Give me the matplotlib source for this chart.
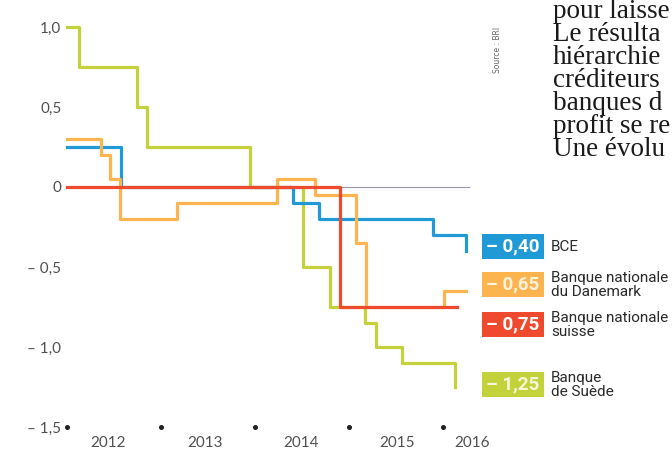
import matplotlib.pyplot as plt
from matplotlib.patches import Rectangle

# taux de dépôt (%), dates en années décimales
bce_dates = [2012.0, 2012.574, 2014.404, 2014.681, 2015.894, 2016.245]
bce_rates = [0.25, 0.0, -0.10, -0.20, -0.30, -0.40]

dk_dates = [2012.0, 2012.362, 2012.457, 2012.564, 2013.170, 2014.234,
            2014.638, 2015.074, 2015.181, 2016.011, 2016.245]
dk_rates = [0.30, 0.20, 0.05, -0.20, -0.10, 0.05, -0.05, -0.35, -0.75, -0.65, -0.65]

ch_dates = [2012.0, 2014.904, 2016.149]
ch_rates = [0.0, -0.75, -0.75]

se_dates = [2012.0, 2012.128, 2012.745, 2012.851, 2013.947, 2014.511,
            2014.798, 2015.170, 2015.287, 2015.564, 2016.128]
se_rates = [1.0, 0.75, 0.50, 0.25, 0.0, -0.50, -0.75, -0.85, -1.0, -1.10, -1.25]

zero_line = [2014.904, 2016.277]

years = [2012, 2013, 2014, 2015, 2016]
year_pos = [2012.44, 2013.47, 2014.49, 2015.51, 2016.31]
year_labels = ['2012', '2013', '2014', '2015', '2016']
y_ticks = [1.0, 0.5, 0.0, -0.5, -1.0, -1.5]
y_labels = ['1,0', '0,5', '0', '– 0,5', '– 1,0', '– 1,5']

legend_values = ['– 0,40', '– 0,65', '– 0,75', '– 1,25']
legend_names = ['BCE', 'Banque nationale\ndu Danemark',
                'Banque nationale\nsuisse', 'Banque\nde Suède']

text_lines = ['pour laisse', 'Le résulta', 'hiérarchie', 'créditeurs',
              'banques d', 'profit se re', 'Une évolu']

c_blue = '#1f9ad6'
c_orange = '#fbb44e'
c_red = '#f04a2e'
c_green = '#c3d23a'

W, H = 672, 454
fig = plt.figure(figsize=(W / 100, H / 100), dpi=100)
fig.patch.set_facecolor('white')


def px(x, y):
    return x / W, 1 - y / H


# axes : x=2012 -> 67 px, 94 px par an ; y=0 -> 187 px, 160 px par point
x0, x1 = 2012.0, 2016.6
y0, y1 = -1.65, 1.1
left = 67
right = 67 + (x1 - x0) * 94
top = 187 - y1 * 160
bottom = 187 - y0 * 160
ax = fig.add_axes([left / W, 1 - bottom / H, (right - left) / W, (bottom - top) / H])
ax.set_xlim(x0, x1)
ax.set_ylim(y0, y1)
for s in ax.spines.values():
    s.set_visible(False)
ax.set_xticks([])
ax.set_yticks(y_ticks)
ax.set_yticklabels(y_labels, fontsize=11, color='#505050', family='Lato')
ax.tick_params(axis='y', length=0, pad=4)
ax.patch.set_alpha(0)

lw = 2.3
ax.plot(zero_line, [0, 0], color='#9b93a8', lw=0.8, zorder=1)
ax.step(se_dates, se_rates, where='post', color=c_green, lw=lw, zorder=2, clip_on=False)
ax.step(bce_dates, bce_rates, where='post', color=c_blue, lw=lw, zorder=3, clip_on=False)
ax.step(dk_dates, dk_rates, where='post', color=c_orange, lw=lw, zorder=4, clip_on=False)
ax.step(ch_dates, ch_rates, where='post', color=c_red, lw=lw, zorder=5, clip_on=False)

ax.plot(years, [-1.5] * len(years), 'o', color='#222222', ms=2.6, clip_on=False)
for xp, lab in zip(year_pos, year_labels):
    ax.text(xp, -1.6, lab, ha='center', va='center', fontsize=11,
            color='#505050', family='Lato', clip_on=False)

# légende à droite
box_tops = [234, 272, 312, 372]
box_colors = [c_blue, c_orange, c_red, c_green]
box_text_colors = ['white', '#fff3dc', 'white', '#f4f8d8']
for yt, col, tcol, val, name in zip(box_tops, box_colors, box_text_colors,
                                    legend_values, legend_names):
    bx, by = px(482, yt + 25)
    fig.add_artist(Rectangle((bx, by), 62 / W, 25 / H, transform=fig.transFigure,
                             facecolor=col, edgecolor='none'))
    fig.text(*px(513, yt + 12.5), val, ha='center', va='center', fontsize=13.5,
             fontweight='bold', color=tcol,
             family=['Liberation Sans Narrow', 'Roboto'])
    fig.text(*px(551, yt + 13), name, ha='left', va='center', fontsize=11,
             color='#2a2a2a', linespacing=0.92,
             family=['Liberation Sans Narrow', 'Roboto'])

fig.text(*px(497, 50), 'Source : BRI', rotation=90, ha='center', va='center',
         fontsize=5.5, color='#666666')

# texte de l'article, coupé au bord
baselines = [18, 41, 64, 87, 110, 133, 156]
for yb, line in zip(baselines, text_lines):
    fig.text(*px(553, yb), line, ha='left', va='baseline', fontsize=19.5,
             color='#1a1a1a', family='Liberation Serif')

fig.savefig('out.png', dpi=100)
